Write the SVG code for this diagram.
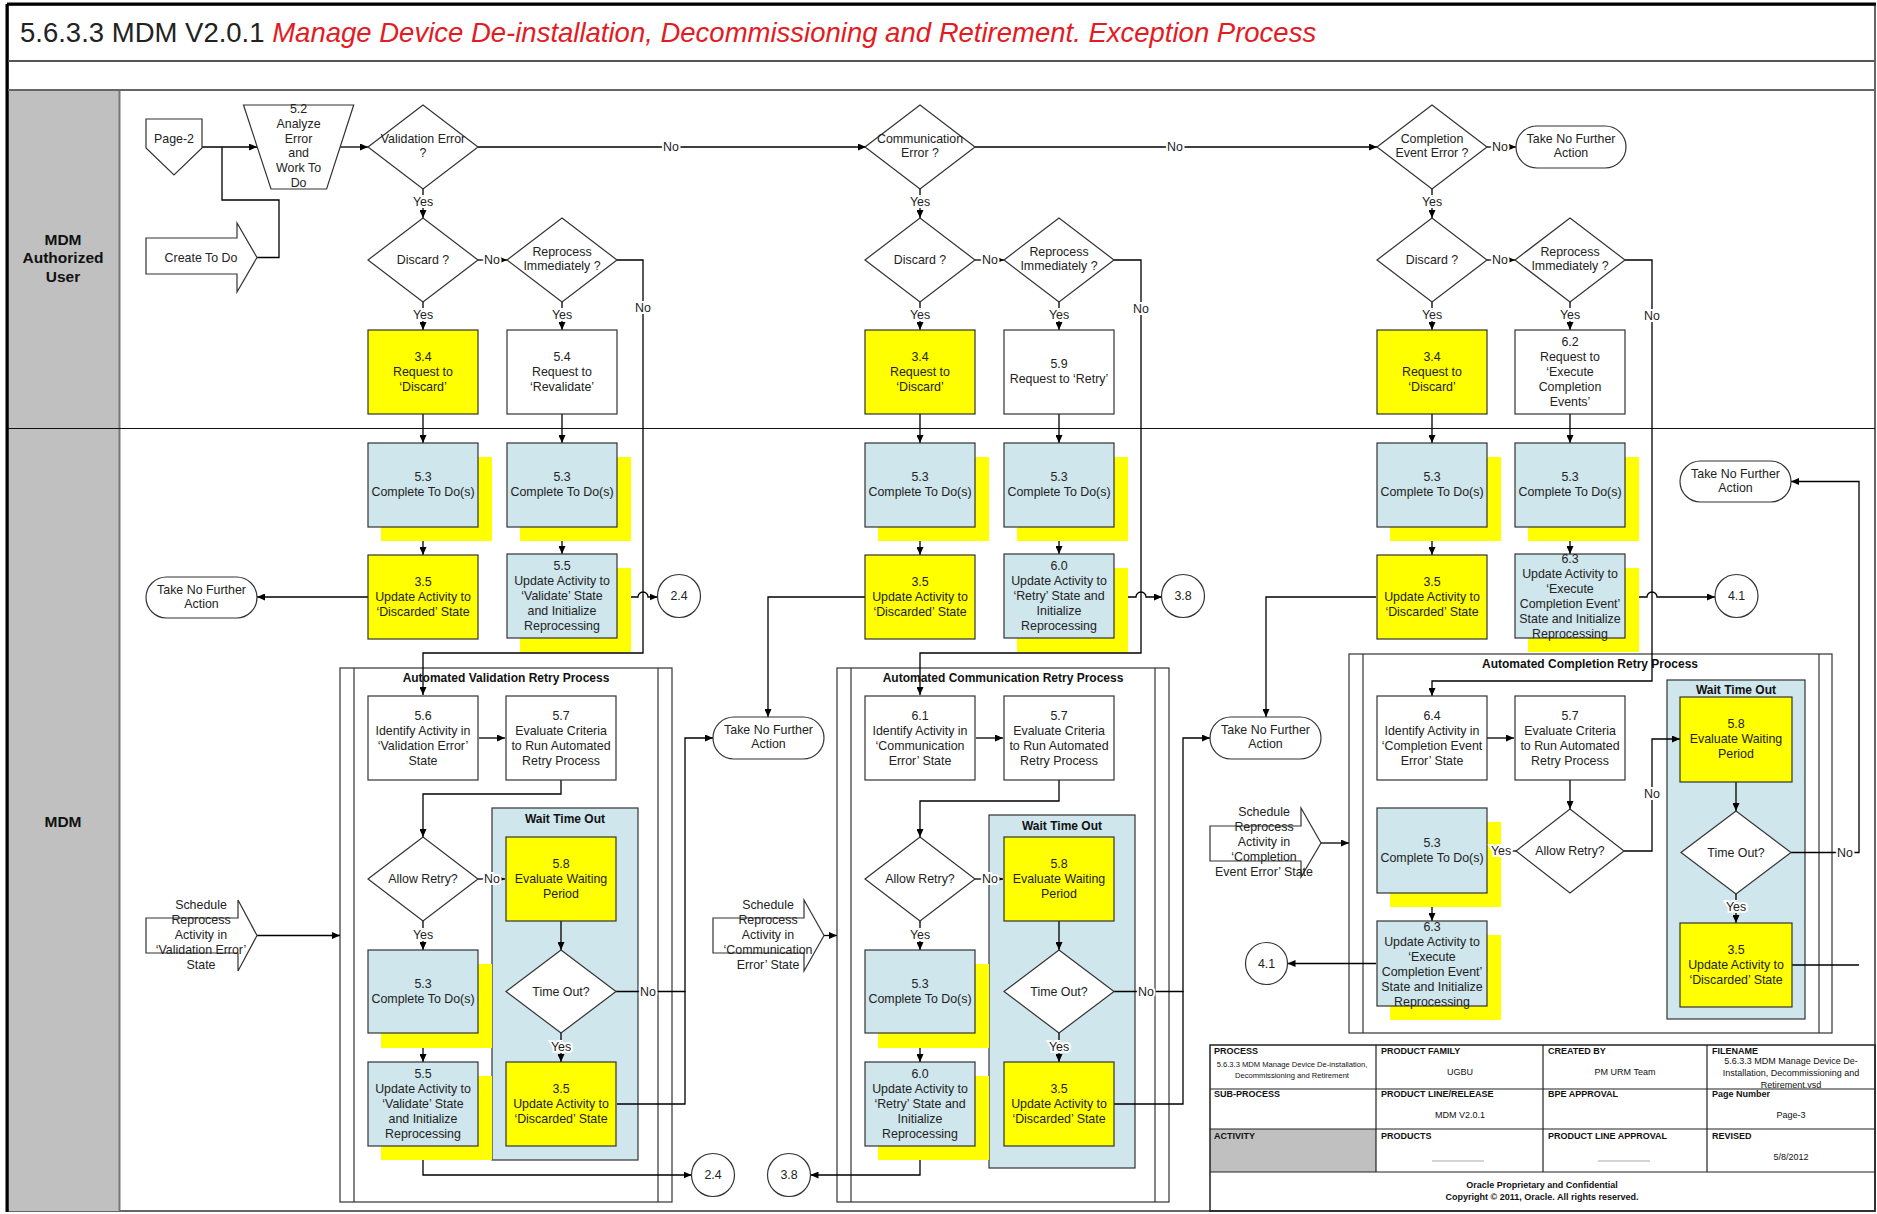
<svg xmlns="http://www.w3.org/2000/svg" width="1877" height="1214" viewBox="0 0 1877 1214">
<defs>
<marker id="a" markerWidth="8" markerHeight="7" refX="8" refY="3.5" orient="auto" markerUnits="userSpaceOnUse"><path d="M0,0 L8,3.5 L0,7 Z" fill="#000"/></marker>
<style>
.t{font-family:"Liberation Sans",Arial,sans-serif;font-size:12.4px;fill:#222;text-anchor:middle}
.bd{font-family:"Liberation Sans",Arial,sans-serif;font-weight:bold;fill:#111;text-anchor:middle}
.lb{font-family:"Liberation Sans",Arial,sans-serif;font-size:12.4px;fill:#222;text-anchor:middle;stroke:#fff;stroke-width:4;paint-order:stroke}
.bx{stroke:#333;stroke-width:1.2}
.y{fill:#ffff00}
.b{fill:#cfe6ec}
.w{fill:#fff}
.sh{fill:#ffff00;stroke:none}
.c{fill:none;stroke:#000;stroke-width:1.3}
.ar{marker-end:url(#a)}
.ct{fill:none;stroke:#333;stroke-width:1.2}
.tb{font-family:"Liberation Sans",Arial,sans-serif;font-size:9px;fill:#111}
.tbb{font-family:"Liberation Sans",Arial,sans-serif;font-size:9px;font-weight:bold;fill:#111}
</style>
</defs>
<rect width="1877" height="1214" fill="#fff"/>
<g id="frame">
<rect x="8" y="5" width="1867" height="1206" fill="none" stroke="#333" stroke-width="1.5"/>
<line x1="7" y1="4" x2="1876" y2="4" stroke="#000" stroke-width="3"/>
<line x1="7" y1="4" x2="7" y2="1212" stroke="#000" stroke-width="3"/>
<line x1="8" y1="61" x2="1875" y2="61" stroke="#555" stroke-width="2"/>
<line x1="8" y1="90" x2="1875" y2="90" stroke="#666" stroke-width="2"/>
<rect x="9" y="91" width="110" height="1120" fill="#c0c0c0"/>
<line x1="119.5" y1="91" x2="119.5" y2="1211" stroke="#777" stroke-width="2"/>
<line x1="8" y1="428.5" x2="1875" y2="428.5" stroke="#111" stroke-width="1.2"/>
<text x="20" y="42" style="font-family:'Liberation Sans',Arial,sans-serif;font-size:27.5px;fill:#222">5.6.3.3 MDM V2.0.1 <tspan style="fill:#e31b23;font-style:italic">Manage Device De-installation, Decommissioning and Retirement. Exception Process</tspan></text>
<text class="bd" x="63" y="244.5" font-size="15.5">MDM</text>
<text class="bd" x="63" y="263" font-size="15.5">Authorized</text>
<text class="bd" x="63" y="281.5" font-size="15.5">User</text>
<text class="bd" x="63" y="826.5" font-size="15.5">MDM</text>
</g>

<g id="container-validation">
<rect x="340" y="668" width="332" height="534" class="ct" fill="#fff"/>
<line x1="354" y1="668" x2="354" y2="1202" class="ct"/>
<line x1="658" y1="668" x2="658" y2="1202" class="ct"/>
<text class="bd" x="506" y="682" font-size="12">Automated Validation Retry Process</text>
</g>
<g id="container-communication">
<rect x="837" y="668" width="332" height="534" class="ct" fill="#fff"/>
<line x1="851" y1="668" x2="851" y2="1202" class="ct"/>
<line x1="1155" y1="668" x2="1155" y2="1202" class="ct"/>
<text class="bd" x="1003" y="682" font-size="12">Automated Communication Retry Process</text>
</g>
<g id="container-completion">
<rect x="1349" y="654" width="483" height="379" class="ct" fill="#fff"/>
<line x1="1363" y1="654" x2="1363" y2="1033" class="ct"/>
<line x1="1819" y1="654" x2="1819" y2="1033" class="ct"/>
<text class="bd" x="1590" y="668" font-size="12">Automated Completion Retry Process</text>
</g>
<g id="wto-validation"><rect x="492" y="808" width="146" height="352" class="bx b"/><text class="bd" x="565" y="823" font-size="12">Wait Time Out</text></g>
<g id="wto-communication"><rect x="989" y="815" width="146" height="353" class="bx b"/><text class="bd" x="1062" y="830" font-size="12">Wait Time Out</text></g>
<g id="wto-completion"><rect x="1667" y="680" width="138" height="339" class="bx b"/><text class="bd" x="1736" y="694" font-size="12">Wait Time Out</text></g>

<g id="connectors">
<path class="c ar" d="M202,147 H257"/>
<path class="c" d="M257,257.5 H279 V200 H222 V147"/>
<path class="c ar" d="M340,147 H368"/>
<path class="c ar" d="M478,147 H866"/>
<path class="c ar" d="M975,147 H1377"/>
<path class="c ar" d="M1487,147 H1516"/>
<path class="c ar" d="M423,189 V218"/>
<path class="c ar" d="M920,189 V218"/>
<path class="c ar" d="M1432,189 V218"/>
<path class="c ar" d="M478,260 H507"/>
<path class="c ar" d="M975,260 H1004"/>
<path class="c ar" d="M1487,260 H1515"/>
<path class="c ar" d="M423,302 V330"/>
<path class="c ar" d="M562,302 V330"/>
<path class="c ar" d="M920,302 V330"/>
<path class="c ar" d="M1059,302 V330"/>
<path class="c ar" d="M1432,302 V330"/>
<path class="c ar" d="M1570,302 V330"/>
<path class="c ar" d="M617,260 H643 V653 H423 V695"/>
<path class="c ar" d="M1114,260 H1141 V653 H920 V695"/>
<path class="c ar" d="M1625,260 H1652 V681 H1432 V696"/>
<path class="c ar" d="M423,414 V443"/>
<path class="c ar" d="M562,414 V443"/>
<path class="c ar" d="M920,414 V443"/>
<path class="c ar" d="M1059,414 V443"/>
<path class="c ar" d="M1432,414 V443"/>
<path class="c ar" d="M1570,414 V443"/>
<path class="c ar" d="M423,527 V555"/>
<path class="c ar" d="M562,527 V554"/>
<path class="c ar" d="M920,527 V555"/>
<path class="c ar" d="M1059,527 V554"/>
<path class="c ar" d="M1432,527 V555"/>
<path class="c ar" d="M1570,527 V554"/>
<path class="c ar" d="M368,597 H257"/>
<path class="c ar" d="M617,597 H638 A5,5 0 0 1 648,597 H657.5"/>
<path class="c ar" d="M865.5,597 H768 V717"/>
<path class="c ar" d="M1114,597 H1136 A5,5 0 0 1 1146,597 H1162"/>
<path class="c ar" d="M1376,597 H1266 V717"/>
<path class="c ar" d="M1626,597 H1647 A5,5 0 0 1 1657,597 H1715"/>
<path class="c ar" d="M479,738 H505"/>
<path class="c ar" d="M561,780 V794 H423 V837"/>
<path class="c ar" d="M478,879 H505"/>
<path class="c ar" d="M423,921 V950"/>
<path class="c ar" d="M423,1033 V1062"/>
<path class="c ar" d="M561,921 V950"/>
<path class="c ar" d="M561,1033 V1062"/>
<path class="c ar" d="M616,991.5 H685 V738 H713"/>
<path class="c" d="M617,1104 H685 V991"/>
<path class="c ar" d="M423,1146 V1175 H691.5"/>
<path class="c ar" d="M257,935.5 H340"/>
<path class="c ar" d="M976,738 H1003"/>
<path class="c ar" d="M1059,780 V801 H920 V837"/>
<path class="c ar" d="M975,879 H1003"/>
<path class="c ar" d="M920,921 V950"/>
<path class="c ar" d="M920,1033 V1062"/>
<path class="c ar" d="M1059,921 V950"/>
<path class="c ar" d="M1059,1033 V1062"/>
<path class="c ar" d="M1114,991.5 H1183 V738 H1210"/>
<path class="c" d="M1114,1104 H1183 V991"/>
<path class="c ar" d="M920,1146 V1175 H810.5"/>
<path class="c ar" d="M824,935.5 H837"/>
<path class="c ar" d="M1487,738 H1514"/>
<path class="c ar" d="M1570,780 V809"/>
<path class="c ar" d="M1516,851 H1487"/>
<path class="c ar" d="M1624,851 H1652 V739 H1680"/>
<path class="c ar" d="M1736,782 V811"/>
<path class="c ar" d="M1736,894 V923"/>
<path class="c ar" d="M1791,852.5 H1859 V481.5 H1791"/>
<path class="c" d="M1792,965 H1859"/>
<path class="c ar" d="M1432,893 V921"/>
<path class="c ar" d="M1376,963.5 H1287.5"/>
<path class="c ar" d="M1321,843 H1349"/>
</g>

<g id="n-page2"><polygon points="146,119 202,119 202,148 174,175 146,148" class="bx w"/><text class="t" x="174" y="143">Page-2</text></g>
<g id="n-createtodo"><path d="M146,238 H237 V223 L257,257.5 L237,292 V274 H146 Z" class="bx w"/><text class="t" x="201" y="261.5">Create To Do</text></g>
<g id="n-5-2"><polygon points="243.5,105 353.7,105 326.6,189 271,189" class="bx w"/>
<text class="t" x="298.6" y="113">5.2</text><text class="t" x="298.6" y="127.8">Analyze</text><text class="t" x="298.6" y="142.6">Error</text><text class="t" x="298.6" y="157.4">and</text><text class="t" x="298.6" y="172.2">Work To</text><text class="t" x="298.6" y="187">Do</text></g>
<g id="n-valerr"><polygon points="368,147 423,105 478,147 423,189" class="bx w"/><text class="t" x="423" y="143">Validation Error</text><text class="t" x="423" y="157">?</text></g>
<g id="n-commerr"><polygon points="865,147 920,105 975,147 920,189" class="bx w"/><text class="t" x="920" y="143">Communication</text><text class="t" x="920" y="157">Error ?</text></g>
<g id="n-complerr"><polygon points="1377,147 1432,105 1487,147 1432,189" class="bx w"/><text class="t" x="1432" y="143">Completion</text><text class="t" x="1432" y="157">Event Error ?</text></g>
<g id="n-tnfa-top"><rect x="1516" y="126" width="110" height="42" rx="21" class="bx w"/><text class="t" x="1571" y="143">Take No Further</text><text class="t" x="1571" y="157">Action</text></g>
<g id="n-discard-a"><polygon points="368,260 423,218 478,260 423,302" class="bx w"/><text class="t" x="423" y="264">Discard ?</text></g>
<g id="n-discard-c"><polygon points="865,260 920,218 975,260 920,302" class="bx w"/><text class="t" x="920" y="264">Discard ?</text></g>
<g id="n-discard-e"><polygon points="1377,260 1432,218 1487,260 1432,302" class="bx w"/><text class="t" x="1432" y="264">Discard ?</text></g>
<g id="n-reproc-b"><polygon points="507,260 562,218 617,260 562,302" class="bx w"/><text class="t" x="562" y="256">Reprocess</text><text class="t" x="562" y="270">Immediately ?</text></g>
<g id="n-reproc-d"><polygon points="1004,260 1059,218 1114,260 1059,302" class="bx w"/><text class="t" x="1059" y="256">Reprocess</text><text class="t" x="1059" y="270">Immediately ?</text></g>
<g id="n-reproc-f"><polygon points="1515,260 1570,218 1625,260 1570,302" class="bx w"/><text class="t" x="1570" y="256">Reprocess</text><text class="t" x="1570" y="270">Immediately ?</text></g>
<g id="n-3-4-a"><rect x="368" y="330" width="110" height="84" class="bx y"/><text class="t" x="423" y="361">3.4</text><text class="t" x="423" y="376">Request to</text><text class="t" x="423" y="391">‘Discard’</text></g>
<g id="n-5-4"><rect x="507" y="330" width="110" height="84" class="bx w"/><text class="t" x="562" y="361">5.4</text><text class="t" x="562" y="376">Request to</text><text class="t" x="562" y="391">‘Revalidate’</text></g>
<g id="n-3-4-c"><rect x="865" y="330" width="110" height="84" class="bx y"/><text class="t" x="920" y="361">3.4</text><text class="t" x="920" y="376">Request to</text><text class="t" x="920" y="391">‘Discard’</text></g>
<g id="n-5-9"><rect x="1004" y="330" width="110" height="84" class="bx w"/><text class="t" x="1059" y="367.5">5.9</text><text class="t" x="1059" y="382.5">Request to ‘Retry’</text></g>
<g id="n-3-4-e"><rect x="1377" y="330" width="110" height="84" class="bx y"/><text class="t" x="1432" y="361">3.4</text><text class="t" x="1432" y="376">Request to</text><text class="t" x="1432" y="391">‘Discard’</text></g>
<g id="n-6-2"><rect x="1515" y="330" width="110" height="84" class="bx w"/><text class="t" x="1570" y="346">6.2</text><text class="t" x="1570" y="361">Request to</text><text class="t" x="1570" y="376">‘Execute</text><text class="t" x="1570" y="391">Completion</text><text class="t" x="1570" y="406">Events’</text></g>

<g id="n-5-3-a"><rect x="381" y="457" width="111" height="84" class="sh"/><rect x="368" y="443" width="110" height="84" class="bx b"/><text class="t" x="423" y="481">5.3</text><text class="t" x="423" y="496">Complete To Do(s)</text></g>
<g id="n-5-3-b"><rect x="520" y="457" width="111" height="84" class="sh"/><rect x="507" y="443" width="110" height="84" class="bx b"/><text class="t" x="562" y="481">5.3</text><text class="t" x="562" y="496">Complete To Do(s)</text></g>
<g id="n-5-3-c"><rect x="878" y="457" width="111" height="84" class="sh"/><rect x="865" y="443" width="110" height="84" class="bx b"/><text class="t" x="920" y="481">5.3</text><text class="t" x="920" y="496">Complete To Do(s)</text></g>
<g id="n-5-3-d"><rect x="1017" y="457" width="111" height="84" class="sh"/><rect x="1004" y="443" width="110" height="84" class="bx b"/><text class="t" x="1059" y="481">5.3</text><text class="t" x="1059" y="496">Complete To Do(s)</text></g>
<g id="n-5-3-e"><rect x="1390" y="457" width="111" height="84" class="sh"/><rect x="1377" y="443" width="110" height="84" class="bx b"/><text class="t" x="1432" y="481">5.3</text><text class="t" x="1432" y="496">Complete To Do(s)</text></g>
<g id="n-5-3-f"><rect x="1528" y="457" width="111" height="84" class="sh"/><rect x="1515" y="443" width="110" height="84" class="bx b"/><text class="t" x="1570" y="481">5.3</text><text class="t" x="1570" y="496">Complete To Do(s)</text></g>
<g id="n-3-5-a"><rect x="368" y="555" width="110" height="84" class="bx y"/><text class="t" x="423" y="586">3.5</text><text class="t" x="423" y="601">Update Activity to</text><text class="t" x="423" y="616">‘Discarded’ State</text></g>
<g id="n-5-5-b"><rect x="520" y="568" width="111" height="84" class="sh"/><rect x="507" y="554" width="110" height="84" class="bx b"/><text class="t" x="562" y="570">5.5</text><text class="t" x="562" y="585">Update Activity to</text><text class="t" x="562" y="600">‘Validate’ State</text><text class="t" x="562" y="615">and Initialize</text><text class="t" x="562" y="630">Reprocessing</text></g>
<g id="n-3-5-c"><rect x="865" y="555" width="110" height="84" class="bx y"/><text class="t" x="920" y="586">3.5</text><text class="t" x="920" y="601">Update Activity to</text><text class="t" x="920" y="616">‘Discarded’ State</text></g>
<g id="n-6-0-d"><rect x="1017" y="568" width="111" height="84" class="sh"/><rect x="1004" y="554" width="110" height="84" class="bx b"/><text class="t" x="1059" y="570">6.0</text><text class="t" x="1059" y="585">Update Activity to</text><text class="t" x="1059" y="600">‘Retry’ State and</text><text class="t" x="1059" y="615">Initialize</text><text class="t" x="1059" y="630">Reprocessing</text></g>
<g id="n-3-5-e"><rect x="1377" y="555" width="110" height="84" class="bx y"/><text class="t" x="1432" y="586">3.5</text><text class="t" x="1432" y="601">Update Activity to</text><text class="t" x="1432" y="616">‘Discarded’ State</text></g>
<g id="n-6-3-f"><rect x="1528" y="568" width="111" height="84" class="sh"/><rect x="1515" y="554" width="110" height="84" class="bx b"/><text class="t" x="1570" y="563">6.3</text><text class="t" x="1570" y="578">Update Activity to</text><text class="t" x="1570" y="593">‘Execute</text><text class="t" x="1570" y="608">Completion Event’</text><text class="t" x="1570" y="623">State and Initialize</text><text class="t" x="1570" y="638">Reprocessing</text></g>
<g id="n-tnfa-a"><rect x="146" y="577" width="111" height="41" rx="20.5" class="bx w"/><text class="t" x="201.5" y="594">Take No Further</text><text class="t" x="201.5" y="608">Action</text></g>
<g id="n-c24-top"><circle cx="679" cy="596" r="21.5" class="bx w"/><text class="t" x="679" y="600">2.4</text></g>
<g id="n-c38-top"><circle cx="1183" cy="596" r="21.5" class="bx w"/><text class="t" x="1183" y="600">3.8</text></g>
<g id="n-c41-top"><circle cx="1736.5" cy="596" r="21.5" class="bx w"/><text class="t" x="1736.5" y="600">4.1</text></g>
<g id="n-tnfa-r"><rect x="1680" y="461" width="111" height="41" rx="20.5" class="bx w"/><text class="t" x="1735.5" y="478">Take No Further</text><text class="t" x="1735.5" y="492">Action</text></g>

<g id="n-5-6"><rect x="368" y="696" width="110" height="84" class="bx w"/><text class="t" x="423" y="720">5.6</text><text class="t" x="423" y="735">Identify Activity in</text><text class="t" x="423" y="750">‘Validation Error’</text><text class="t" x="423" y="765">State</text></g>
<g id="n-5-7-v"><rect x="506" y="696" width="110" height="84" class="bx w"/><text class="t" x="561" y="720">5.7</text><text class="t" x="561" y="735">Evaluate Criteria</text><text class="t" x="561" y="750">to Run Automated</text><text class="t" x="561" y="765">Retry Process</text></g>
<g id="n-allow-v"><polygon points="368,879 423,837 478,879 423,921" class="bx w"/><text class="t" x="423" y="883">Allow Retry?</text></g>
<g id="n-5-8-v"><rect x="506" y="837" width="110" height="84" class="bx y"/><text class="t" x="561" y="868">5.8</text><text class="t" x="561" y="883">Evaluate Waiting</text><text class="t" x="561" y="898">Period</text></g>
<g id="n-timeout-v"><polygon points="506,991.5 561,950 616,991.5 561,1033" class="bx w"/><text class="t" x="561" y="995.5">Time Out?</text></g>
<g id="n-3-5-v"><rect x="506" y="1062" width="110" height="84" class="bx y"/><text class="t" x="561" y="1093">3.5</text><text class="t" x="561" y="1108">Update Activity to</text><text class="t" x="561" y="1123">‘Discarded’ State</text></g>
<g id="n-5-3-v"><rect x="381" y="964" width="111" height="84" class="sh"/><rect x="368" y="950" width="110" height="83" class="bx b"/><text class="t" x="423" y="988">5.3</text><text class="t" x="423" y="1003">Complete To Do(s)</text></g>
<g id="n-5-5-v"><rect x="381" y="1076" width="111" height="84" class="sh"/><rect x="368" y="1062" width="110" height="84" class="bx b"/><text class="t" x="423" y="1078">5.5</text><text class="t" x="423" y="1093">Update Activity to</text><text class="t" x="423" y="1108">‘Validate’ State</text><text class="t" x="423" y="1123">and Initialize</text><text class="t" x="423" y="1138">Reprocessing</text></g>
<g id="n-sched-v"><path d="M146,918 H238 V900 L257,935.5 L238,971 V953 H146 Z" class="bx w"/><text class="t" x="201" y="909">Schedule</text><text class="t" x="201" y="924">Reprocess</text><text class="t" x="201" y="939">Activity in</text><text class="t" x="201" y="954">‘Validation Error’</text><text class="t" x="201" y="969">State</text></g>
<g id="n-c24-bot"><circle cx="713" cy="1175" r="21.5" class="bx w"/><text class="t" x="713" y="1179">2.4</text></g>

<g id="n-tnfa-c"><rect x="713" y="717" width="111" height="42" rx="21" class="bx w"/><text class="t" x="768.5" y="734">Take No Further</text><text class="t" x="768.5" y="748">Action</text></g>
<g id="n-6-1"><rect x="865" y="696" width="110" height="84" class="bx w"/><text class="t" x="920" y="720">6.1</text><text class="t" x="920" y="735">Identify Activity in</text><text class="t" x="920" y="750">‘Communication</text><text class="t" x="920" y="765">Error’ State</text></g>
<g id="n-5-7-c"><rect x="1004" y="696" width="110" height="84" class="bx w"/><text class="t" x="1059" y="720">5.7</text><text class="t" x="1059" y="735">Evaluate Criteria</text><text class="t" x="1059" y="750">to Run Automated</text><text class="t" x="1059" y="765">Retry Process</text></g>
<g id="n-allow-c"><polygon points="865,879 920,837 975,879 920,921" class="bx w"/><text class="t" x="920" y="883">Allow Retry?</text></g>
<g id="n-5-8-c"><rect x="1004" y="837" width="110" height="84" class="bx y"/><text class="t" x="1059" y="868">5.8</text><text class="t" x="1059" y="883">Evaluate Waiting</text><text class="t" x="1059" y="898">Period</text></g>
<g id="n-timeout-c"><polygon points="1004,991.5 1059,950 1114,991.5 1059,1033" class="bx w"/><text class="t" x="1059" y="995.5">Time Out?</text></g>
<g id="n-3-5-cc"><rect x="1004" y="1062" width="110" height="84" class="bx y"/><text class="t" x="1059" y="1093">3.5</text><text class="t" x="1059" y="1108">Update Activity to</text><text class="t" x="1059" y="1123">‘Discarded’ State</text></g>
<g id="n-5-3-cc"><rect x="878" y="964" width="111" height="84" class="sh"/><rect x="865" y="950" width="110" height="83" class="bx b"/><text class="t" x="920" y="988">5.3</text><text class="t" x="920" y="1003">Complete To Do(s)</text></g>
<g id="n-6-0-cc"><rect x="878" y="1076" width="111" height="84" class="sh"/><rect x="865" y="1062" width="110" height="84" class="bx b"/><text class="t" x="920" y="1078">6.0</text><text class="t" x="920" y="1093">Update Activity to</text><text class="t" x="920" y="1108">‘Retry’ State and</text><text class="t" x="920" y="1123">Initialize</text><text class="t" x="920" y="1138">Reprocessing</text></g>
<g id="n-sched-c"><path d="M713,918 H804 V900 L824,935.5 L804,971 V953 H713 Z" class="bx w"/><text class="t" x="768" y="909">Schedule</text><text class="t" x="768" y="924">Reprocess</text><text class="t" x="768" y="939">Activity in</text><text class="t" x="768" y="954">‘Communication</text><text class="t" x="768" y="969">Error’ State</text></g>
<g id="n-c38-bot"><circle cx="789" cy="1175" r="21.5" class="bx w"/><text class="t" x="789" y="1179">3.8</text></g>

<g id="n-tnfa-e"><rect x="1210" y="717" width="111" height="42" rx="21" class="bx w"/><text class="t" x="1265.5" y="734">Take No Further</text><text class="t" x="1265.5" y="748">Action</text></g>
<g id="n-sched-e"><path d="M1210,826 H1301 V808 L1321,843 L1301,877 V861 H1210 Z" class="bx w"/><text class="t" x="1264" y="816">Schedule</text><text class="t" x="1264" y="831">Reprocess</text><text class="t" x="1264" y="846">Activity in</text><text class="t" x="1264" y="861">‘Completion</text><text class="t" x="1264" y="876">Event Error’ State</text></g>
<g id="n-6-4"><rect x="1377" y="696" width="110" height="84" class="bx w"/><text class="t" x="1432" y="720">6.4</text><text class="t" x="1432" y="735">Identify Activity in</text><text class="t" x="1432" y="750">‘Completion Event</text><text class="t" x="1432" y="765">Error’ State</text></g>
<g id="n-5-7-e"><rect x="1515" y="696" width="110" height="84" class="bx w"/><text class="t" x="1570" y="720">5.7</text><text class="t" x="1570" y="735">Evaluate Criteria</text><text class="t" x="1570" y="750">to Run Automated</text><text class="t" x="1570" y="765">Retry Process</text></g>
<g id="n-allow-e"><polygon points="1516,851 1570,809 1624,851 1570,893" class="bx w"/><text class="t" x="1570" y="855">Allow Retry?</text></g>
<g id="n-5-3-ee"><rect x="1390" y="822" width="111" height="85" class="sh"/><rect x="1377" y="808" width="110" height="85" class="bx b"/><text class="t" x="1432" y="847">5.3</text><text class="t" x="1432" y="862">Complete To Do(s)</text></g>
<g id="n-6-3-ee"><rect x="1390" y="935" width="111" height="85" class="sh"/><rect x="1377" y="921" width="110" height="85" class="bx b"/><text class="t" x="1432" y="931">6.3</text><text class="t" x="1432" y="946">Update Activity to</text><text class="t" x="1432" y="961">‘Execute</text><text class="t" x="1432" y="976">Completion Event’</text><text class="t" x="1432" y="991">State and Initialize</text><text class="t" x="1432" y="1006">Reprocessing</text></g>
<g id="n-5-8-e"><rect x="1680" y="697" width="112" height="85" class="bx y"/><text class="t" x="1736" y="728">5.8</text><text class="t" x="1736" y="743">Evaluate Waiting</text><text class="t" x="1736" y="758">Period</text></g>
<g id="n-timeout-e"><polygon points="1681,852.5 1736,811 1791,852.5 1736,894" class="bx w"/><text class="t" x="1736" y="856.5">Time Out?</text></g>
<g id="n-3-5-ee"><rect x="1680" y="923" width="112" height="84" class="bx y"/><text class="t" x="1736" y="954">3.5</text><text class="t" x="1736" y="969">Update Activity to</text><text class="t" x="1736" y="984">‘Discarded’ State</text></g>
<g id="n-c41-bot"><circle cx="1266.5" cy="963.5" r="21" class="bx w"/><text class="t" x="1266.5" y="967.5">4.1</text></g>

<g id="connector-labels">
<text class="lb" x="671" y="151">No</text>
<text class="lb" x="1175" y="151">No</text>
<text class="lb" x="1500" y="151">No</text>
<text class="lb" x="423" y="206">Yes</text>
<text class="lb" x="920" y="206">Yes</text>
<text class="lb" x="1432" y="206">Yes</text>
<text class="lb" x="492" y="264">No</text>
<text class="lb" x="990" y="264">No</text>
<text class="lb" x="1500" y="264">No</text>
<text class="lb" x="423" y="319">Yes</text>
<text class="lb" x="562" y="319">Yes</text>
<text class="lb" x="920" y="319">Yes</text>
<text class="lb" x="1059" y="319">Yes</text>
<text class="lb" x="1432" y="319">Yes</text>
<text class="lb" x="1570" y="319">Yes</text>
<text class="lb" x="643" y="312">No</text>
<text class="lb" x="1141" y="313">No</text>
<text class="lb" x="1652" y="320">No</text>
<text class="lb" x="492" y="883">No</text>
<text class="lb" x="423" y="939">Yes</text>
<text class="lb" x="561" y="1051">Yes</text>
<text class="lb" x="648" y="995.5">No</text>
<text class="lb" x="990" y="883">No</text>
<text class="lb" x="920" y="939">Yes</text>
<text class="lb" x="1059" y="1051">Yes</text>
<text class="lb" x="1146" y="995.5">No</text>
<text class="lb" x="1501" y="855">Yes</text>
<text class="lb" x="1652" y="798">No</text>
<text class="lb" x="1736" y="911">Yes</text>
<text class="lb" x="1845" y="856.5">No</text>
</g>

<g id="titleblock">
<rect x="1210" y="1129" width="166" height="43" fill="#c0c0c0"/>
<rect x="1210" y="1045" width="665" height="166" fill="none" stroke="#222" stroke-width="1.5"/>
<line x1="1210" y1="1089" x2="1875" y2="1089" stroke="#222" stroke-width="1.2"/>
<line x1="1210" y1="1129" x2="1875" y2="1129" stroke="#222" stroke-width="1.2"/>
<line x1="1210" y1="1172" x2="1875" y2="1172" stroke="#222" stroke-width="1.2"/>
<line x1="1376" y1="1045" x2="1376" y2="1172" stroke="#222" stroke-width="1.2"/>
<line x1="1543" y1="1045" x2="1543" y2="1172" stroke="#222" stroke-width="1.2"/>
<line x1="1707" y1="1045" x2="1707" y2="1172" stroke="#222" stroke-width="1.2"/>
<text class="tbb" x="1214" y="1054">PROCESS</text>
<text class="tb" x="1292" y="1067" text-anchor="middle" style="font-size:7.6px">5.6.3.3 MDM Manage Device De-installation,</text>
<text class="tb" x="1292" y="1078" text-anchor="middle" style="font-size:7.6px">Decommissioning and Retirement</text>
<text class="tbb" x="1381" y="1054">PRODUCT FAMILY</text>
<text class="tb" x="1460" y="1075" text-anchor="middle">UGBU</text>
<text class="tbb" x="1548" y="1054">CREATED BY</text>
<text class="tb" x="1625" y="1075" text-anchor="middle">PM URM Team</text>
<text class="tbb" x="1712" y="1054">FILENAME</text>
<text class="tb" x="1791" y="1064" text-anchor="middle">5.6.3.3 MDM Manage Device De-</text>
<text class="tb" x="1791" y="1076" text-anchor="middle">Installation, Decommissioning and</text>
<text class="tb" x="1791" y="1088" text-anchor="middle">Retirement.vsd</text>
<text class="tbb" x="1214" y="1097">SUB-PROCESS</text>
<text class="tbb" x="1381" y="1097">PRODUCT LINE/RELEASE</text>
<text class="tb" x="1460" y="1118" text-anchor="middle">MDM V2.0.1</text>
<text class="tbb" x="1548" y="1097">BPE APPROVAL</text>
<text class="tbb" x="1712" y="1097">Page Number</text>
<text class="tb" x="1791" y="1118" text-anchor="middle">Page-3</text>
<text class="tbb" x="1214" y="1139">ACTIVITY</text>
<text class="tbb" x="1381" y="1139">PRODUCTS</text>
<line x1="1432" y1="1161" x2="1484" y2="1161" stroke="#aaa" stroke-width="1.2"/>
<text class="tbb" x="1548" y="1139">PRODUCT LINE APPROVAL</text>
<line x1="1598" y1="1161" x2="1650" y2="1161" stroke="#aaa" stroke-width="1.2"/>
<text class="tbb" x="1712" y="1139">REVISED</text>
<text class="tb" x="1791" y="1160" text-anchor="middle">5/8/2012</text>
<text class="tbb" x="1542" y="1188" text-anchor="middle">Oracle Proprietary and Confidential</text>
<text class="tbb" x="1542" y="1200" text-anchor="middle">Copyright © 2011, Oracle. All rights reserved.</text>
</g>
</svg>
